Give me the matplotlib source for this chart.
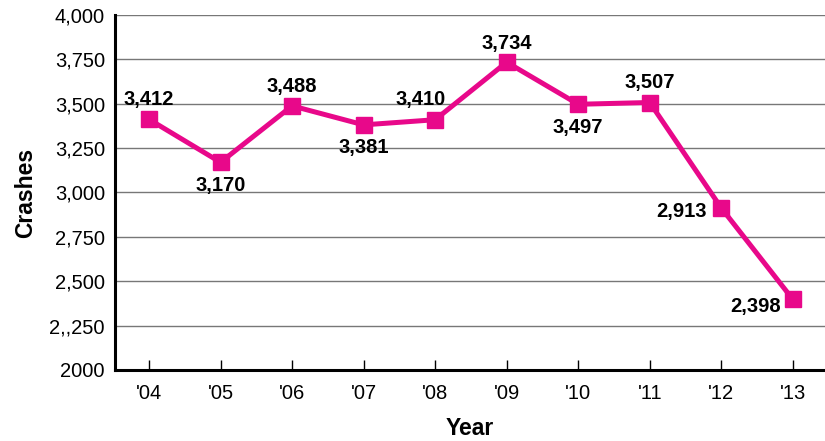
import matplotlib
matplotlib.use("Agg")
import matplotlib.pyplot as plt

years = ["'04", "'05", "'06", "'07", "'08", "'09", "'10", "'11", "'12", "'13"]
crashes = [3412, 3170, 3488, 3381, 3410, 3734, 3497, 3507, 2913, 2398]
ytick_vals = [2000, 2250, 2500, 2750, 3000, 3250, 3500, 3750, 4000]
ytick_labels = ["2000", "2,,250", "2,500", "2,750", "3,000", "3,250", "3,500", "3,750", "4,000"]
# label offsets in pixels (dx, dy) relative to each point
label_offsets = [(0, 20), (0, -23), (0, 19), (0, -23), (-15, 20),
                 (0, 19), (0, -23), (0, 20), (-40, -4), (-37, -7)]

plt.rcParams['font.family'] = ['Liberation Sans', 'DejaVu Sans']
pink = '#E8088A'

fig = plt.figure(figsize=(8.25, 4.41), dpi=100)
ax = fig.add_axes([0.139, 0.161, 0.861, 0.805])

x = list(range(len(years)))
ax.plot(x, crashes, color=pink, lw=3.6, marker='s', markersize=11.5, zorder=3)

for i, v in enumerate(crashes):
    dx, dy = label_offsets[i]
    ax.annotate(f"{v:,}", (i, v), xytext=(dx, dy), textcoords='offset pixels',
                ha='center', va='center', fontsize=14.5, fontweight='bold', zorder=4)

ax.set_xlim(-0.48, 9.45)
ax.set_ylim(2000, 4000)
ax.set_xticks(x)
ax.set_xticklabels(years, fontsize=14.5)
ax.set_yticks(ytick_vals)
ax.set_yticklabels(ytick_labels, fontsize=14.5)
ax.tick_params(axis='x', direction='in', length=7, width=1, pad=10)
ax.tick_params(axis='y', length=0, pad=7)

for v in ytick_vals[1:]:
    ax.axhline(v, color='#777777', lw=1, zorder=1)

for s in ['top', 'right']:
    ax.spines[s].set_visible(False)
ax.spines['left'].set_linewidth(2.2)
ax.spines['bottom'].set_linewidth(2.2)

ax.set_ylabel("Crashes", fontsize=16.5, fontweight='bold', labelpad=9)
ax.set_xlabel("Year", fontsize=16.5, fontweight='bold', labelpad=10)

fig.savefig("out.png", dpi=100)
